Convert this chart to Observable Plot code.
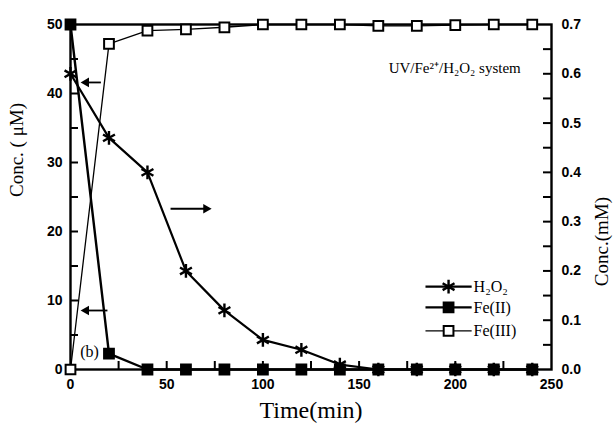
<!DOCTYPE html>
<html><head><meta charset="utf-8">
<script src="https://cdn.jsdelivr.net/npm/d3@7"></script>
<script src="https://cdn.jsdelivr.net/npm/@observablehq/plot@0.6"></script>
<style>body{margin:0;background:#fff}</style>
</head><body><div id="chart"></div>
<script>
// Data
const time = [0,20,40,60,80,100,120,140,160,180,200,220,240];
const h2o2_mM = [0.60,0.47,0.40,0.20,0.12,0.06,0.04,0.01,0,0,0,0,0];   // right axis
const fe2_uM = [50,2.3,0,0,0,0,0,0,0,0,0,0,0];                       // left axis
const fe3_uM = [0,47.2,49.1,49.3,49.6,50,50,50,49.8,49.8,49.9,50,50]; // left axis
const leftTicks = [0,10,20,30,40,50];
const rightTicks = [0,0.1,0.2,0.3,0.4,0.5,0.6,0.7];
const xTicks = [0,50,100,150,200,250];
const ratio = 50/0.7;
const legendNames = ["H₂O₂","Fe(II)","Fe(III)"];
const legendY = [12.0, 9.0, 5.6];
const arrows = [
  {x1:15.8,x2:6.6,y:41.6},
  {x1:52,x2:72,y:23.3},
  {x1:19.2,x2:6.6,y:8.55}
];

const h2o2 = time.map((t,i)=>({t, v:h2o2_mM[i]*ratio}));
const fe2 = time.map((t,i)=>({t, v:fe2_uM[i]}));
const fe3 = time.map((t,i)=>({t, v:fe3_uM[i]}));

const minorLeft = d3.range(5,50,5);
const minorRight = d3.range(0.05,0.7,0.05).map(v=>v*ratio);
const minorX = d3.range(25,250,25);

const legend = legendNames.map((n,i)=>({n, y:legendY[i], i}));

const sans = "Liberation Sans, Arial, sans-serif";
const serif = "Liberation Serif, Times New Roman, serif";

const chart = Plot.plot({
  width:615, height:433,
  marginLeft:70, marginRight:64, marginTop:24, marginBottom:64,
  x:{domain:[0,250]},
  y:{domain:[0,50]},
  style:{fontFamily:sans, fontSize:"14px", color:"#000", background:"#fff"},
  marks:[
    // axes
    Plot.axisY(leftTicks,{anchor:"left", tickSize:0, tickPadding:8, label:null, fontSize:14, fontWeight:"bold"}),
    Plot.axisY(rightTicks.map(v=>v*ratio),{anchor:"right", tickSize:0, tickPadding:10, label:null, tickFormat:(d,i)=>rightTicks[i].toFixed(1), fontSize:14, fontWeight:"bold"}),
    Plot.axisX(xTicks,{anchor:"bottom", tickSize:0, tickPadding:10, label:null, fontSize:14, fontWeight:"bold"}),
    Plot.frame({strokeWidth:2.4}),
    // axis titles
    Plot.text(["Conc. ( μM)"],{frameAnchor:"left", dx:-54, rotate:-90, fontFamily:serif, fontSize:19, fill:"#000"}),
    Plot.text(["Conc.(mM)"],{frameAnchor:"right", dx:50, rotate:-90, fontFamily:serif, fontSize:19, fill:"#000"}),
    Plot.text(["Time(min)"],{frameAnchor:"bottom", dy:48, fontFamily:serif, fontSize:24, fill:"#000"}),
    // series
    Plot.line(fe3,{x:"t", y:"v", stroke:"#000", strokeWidth:1.3}),
    Plot.line(h2o2,{x:"t", y:"v", stroke:"#000", strokeWidth:2.2}),
    Plot.line(fe2,{x:"t", y:"v", stroke:"#000", strokeWidth:2.4}),
    Plot.dot(h2o2,{x:"t", y:"v", symbol:"asterisk", r:6.5, stroke:"#000", strokeWidth:2.4}),
    Plot.dot(fe3,{x:"t", y:"v", symbol:"square", r:5.5, fill:"#fff", stroke:"#000", strokeWidth:2}),
    Plot.dot(fe2,{x:"t", y:"v", symbol:"square", r:5.8, fill:"#000", stroke:"#000"}),
    // arrows
    Plot.link(arrows,{x1:"x1", x2:"x2", y1:"y", y2:"y", stroke:"#000", strokeWidth:1.8}),
    Plot.dot(arrows.filter(d=>d.x2<d.x1),{x:"x2", y:"y", symbol:"triangle", r:3.6, rotate:-90, dx:3, fill:"#000", stroke:"none"}),
    Plot.dot(arrows.filter(d=>d.x2>d.x1),{x:"x2", y:"y", symbol:"triangle", r:3.6, rotate:90, dx:-3, fill:"#000", stroke:"none"}),
    // annotations
    Plot.text(["(b)"],{x:[9.9], y:[2.6], fontFamily:serif, fontSize:16, fill:"#000"}),
    Plot.text(["UV/Fe²⁺/H₂O₂ system"],{x:[234], y:[43.7], textAnchor:"end", fontFamily:serif, fontSize:15, fill:"#000"}),
    // legend
    Plot.link(legend,{x1:184.5, x2:208.5, y1:"y", y2:"y", stroke:"#000", strokeWidth:d=>d.i===2?1.3:2.2}),
    Plot.dot(legend.filter(d=>d.i===0),{x:196.5, y:"y", symbol:"asterisk", r:6.5, stroke:"#000", strokeWidth:2.4}),
    Plot.dot(legend.filter(d=>d.i===1),{x:196.5, y:"y", symbol:"square", r:5.8, fill:"#000", stroke:"#000"}),
    Plot.dot(legend.filter(d=>d.i===2),{x:196.5, y:"y", symbol:"square", r:5.5, fill:"#fff", stroke:"#000", strokeWidth:2}),
    Plot.text(legend,{x:209, y:"y", text:"n", textAnchor:"start", dx:1, fontFamily:serif, fontSize:16, fill:"#000"}),
    // inward minor ticks (drawn last so nothing covers them)
    Plot.tickY(minorLeft,{y:d=>d, insetRight:473, stroke:"#000", strokeWidth:2}),
    Plot.tickY(minorRight,{y:d=>d, insetLeft:473, stroke:"#000", strokeWidth:2}),
    Plot.tickX(minorX,{x:d=>d, insetTop:337, stroke:"#000", strokeWidth:2})
  ]
});
document.getElementById("chart").appendChild(chart);
</script></body></html>
